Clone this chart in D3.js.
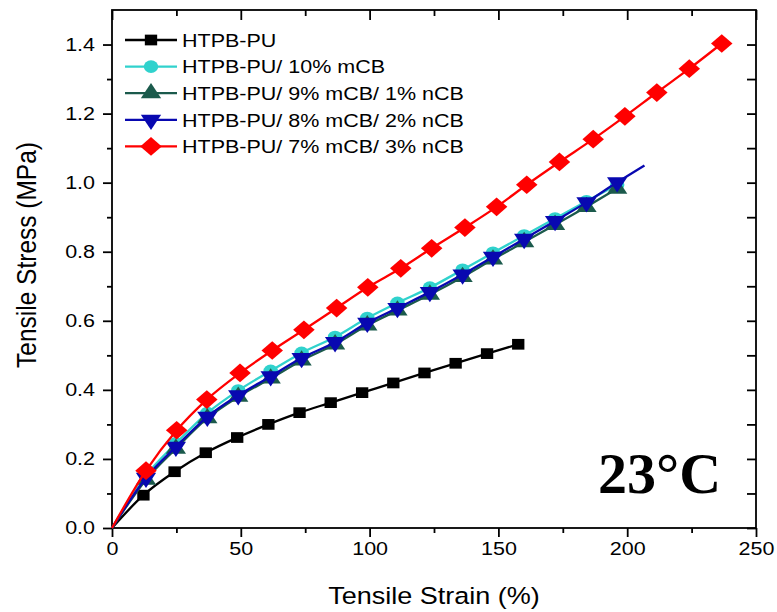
<!DOCTYPE html>
<html>
<head>
<meta charset="utf-8">
<script src="https://cdn.jsdelivr.net/npm/d3@7"></script>
<style>
  body { margin: 0; background: #fff; }
  text { font-family: Arial, "Liberation Sans", sans-serif; fill: #000; }
</style>
</head>
<body>
<div id="chart"></div>
<script>
// series: strain (%) / stress (MPa)
const seriesNames = [
    "HTPB-PU",
    "HTPB-PU/ 10% mCB",
    "HTPB-PU/ 9% mCB/ 1% nCB",
    "HTPB-PU/ 8% mCB/ 2% nCB",
    "HTPB-PU/ 7% mCB/ 3% nCB"
];

const pureStrain = [0, 12.2, 24.3, 36.4, 48.6, 60.7, 72.8, 84.9, 97.1, 109.2, 121.3, 133.4, 145.6, 157.7];
const pureStress = [0, 0.095, 0.163, 0.218, 0.262, 0.300, 0.334, 0.363, 0.392, 0.420, 0.449, 0.477, 0.505, 0.532];

const mcb10Strain = [0, 13.2, 24.8, 37.0, 49.0, 61.6, 73.6, 86.6, 99.1, 110.8, 123.4, 136.1, 147.9, 160.0, 172.0, 184.2, 196.1];
const mcb10Stress = [0, 0.152, 0.245, 0.333, 0.398, 0.455, 0.507, 0.553, 0.608, 0.652, 0.696, 0.748, 0.797, 0.847, 0.896, 0.946, 0.994];

const ncb1Strain = [0, 13.2, 24.8, 37.0, 49.0, 61.6, 73.6, 86.6, 99.1, 110.8, 123.4, 136.1, 147.9, 160.0, 172.0, 184.2, 196.1];
const ncb1Stress = [0, 0.140, 0.230, 0.318, 0.380, 0.433, 0.485, 0.532, 0.587, 0.630, 0.676, 0.727, 0.778, 0.828, 0.878, 0.930, 0.983];

const ncb2Strain = [0, 13.2, 24.8, 37.0, 49.0, 61.6, 73.6, 86.6, 99.1, 110.8, 123.4, 136.1, 147.9, 160.0, 172.0, 184.2, 196.1];
const ncb2Stress = [0, 0.145, 0.235, 0.322, 0.384, 0.439, 0.492, 0.538, 0.594, 0.637, 0.683, 0.734, 0.785, 0.837, 0.889, 0.943, 1.001];
// the 2% nCB curve runs on past its last marker
const ncb2TailStrain = [196.1, 206.7];
const ncb2TailStress = [1.001, 1.050];

const ncb3Strain = [0, 13.2, 25.1, 36.8, 49.7, 62.2, 74.5, 87.2, 99.3, 112.1, 124.1, 137.0, 149.3, 161.0, 173.7, 186.8, 199.1, 211.5, 224.1, 236.7];
const ncb3Stress = [0, 0.166, 0.283, 0.372, 0.449, 0.514, 0.574, 0.637, 0.697, 0.752, 0.810, 0.870, 0.930, 0.994, 1.060, 1.126, 1.192, 1.261, 1.330, 1.403];

const xMajor = [0, 50, 100, 150, 200, 250];
const xMinor = [25, 75, 125, 175, 225];
const yMajor = [0, 0.2, 0.4, 0.6, 0.8, 1.0, 1.2, 1.4];
const yMinor = [0.1, 0.3, 0.5, 0.7, 0.9, 1.1, 1.3];

const W = 777, H = 612;
const plotL = 112, plotR = 756, plotT = 10, plotB = 528;
const stretch = 1.15;   // the source picture is a bit wider than tall
const fs = 18.7;

const svg = d3.select("#chart").append("svg")
    .attr("width", W).attr("height", H);

const x = d3.scaleLinear().domain([0, 250]).range([plotL, plotR]);
const y = d3.scaleLinear().domain([0, 1.5]).range([plotB, plotT]);

// ticks
function ticks(axis, vals, size) {
    return axis.tickValues(vals).tickSize(size).tickFormat("");
}
const gx = svg.append("g").attr("transform", `translate(0,${plotB})`);
gx.call(d3.axisBottom(x).tickValues(xMajor).tickSize(9).tickFormat(d3.format("d")));
gx.selectAll("text")
    .attr("y", 14)
    .attr("transform", `scale(${stretch},1)`);
svg.append("g").attr("transform", `translate(0,${plotB})`).call(ticks(d3.axisBottom(x), xMinor, 5));

const gy = svg.append("g").attr("transform", `translate(${plotL},0)`);
gy.call(d3.axisLeft(y).tickValues(yMajor).tickSize(9).tickFormat(d3.format(".1f")));
gy.selectAll("text")
    .attr("x", -17 / stretch)
    .attr("transform", `scale(${stretch},1)`);
svg.append("g").attr("transform", `translate(${plotL},0)`).call(ticks(d3.axisLeft(y), yMinor, 5));

// inward ticks on top and right
svg.append("g").attr("transform", `translate(0,${plotT})`).call(ticks(d3.axisBottom(x), xMajor, 10));
svg.append("g").attr("transform", `translate(0,${plotT})`).call(ticks(d3.axisBottom(x), xMinor, 6));
svg.append("g").attr("transform", `translate(${plotR},0)`).call(ticks(d3.axisLeft(y), yMajor.concat(yMinor), 9));

svg.selectAll(".domain").remove();
svg.selectAll(".tick line").attr("stroke", "#000").attr("stroke-width", 1.8);
svg.selectAll(".tick text").style("font-size", fs + "px").attr("fill", "#000");

svg.append("rect")
    .attr("x", plotL).attr("y", plotT)
    .attr("width", plotR - plotL).attr("height", plotB - plotT)
    .attr("fill", "none").attr("stroke", "#000").attr("stroke-width", 1.8);

// axis titles
svg.append("text")
    .attr("transform", `translate(${(plotL + plotR) / 2},604) scale(${stretch},1)`)
    .attr("text-anchor", "middle")
    .style("font-size", "23.5px")
    .text("Tensile Strain (%)");

svg.append("text")
    .attr("transform", `translate(36,255) scale(${stretch},1) rotate(-90)`)
    .attr("text-anchor", "middle")
    .style("font-size", "24.5px")
    .text("Tensile Stress (MPa)");

svg.append("text")
    .attr("x", 598).attr("y", 493)
    .style("font-family", "'Times New Roman', 'Liberation Serif', serif")
    .style("font-weight", "bold")
    .style("font-size", "58px")
    .text("23°C");

// series
const diamond = {
    draw(ctx, size) {
        const r = Math.sqrt(size / 2);
        ctx.moveTo(0, -r); ctx.lineTo(r, 0); ctx.lineTo(0, r); ctx.lineTo(-r, 0); ctx.closePath();
    }
};

const series = [
    { name: seriesNames[0], xs: pureStrain, ys: pureStress, color: "#000000", symbol: d3.symbolSquare, size: 115 },
    { name: seriesNames[1], xs: mcb10Strain, ys: mcb10Stress, color: "#30d2cd", symbol: d3.symbolCircle, size: 125 },
    { name: seriesNames[2], xs: ncb1Strain, ys: ncb1Stress, color: "#1b5a4c", symbol: d3.symbolTriangle, size: 135 },
    { name: seriesNames[3], xs: ncb2Strain, ys: ncb2Stress, color: "#0808b0", symbol: d3.symbolTriangle, size: 135, flip: true,
      tail: d3.zip(ncb2TailStrain, ncb2TailStress) },
    { name: seriesNames[4], xs: ncb3Strain, ys: ncb3Stress, color: "#ff0000", symbol: diamond, size: 175 }
];

const line = d3.line()
    .x(d => x(d[0]))
    .y(d => y(d[1]))
    .curve(d3.curveMonotoneX);

function markerTransform(s, px, py) {
    return `translate(${px},${py}) scale(${stretch},${s.flip ? -1 : 1})`;
}

series.forEach(s => {
    const pts = d3.zip(s.xs, s.ys);
    const linePts = s.tail ? pts.concat(s.tail.slice(1)) : pts;
    const g = svg.append("g");
    g.append("path")
        .attr("d", line(linePts))
        .attr("fill", "none")
        .attr("stroke", s.color)
        .attr("stroke-width", 2.3);
    g.selectAll("path.mk")
        .data(pts.slice(1))
        .join("path")
        .attr("class", "mk")
        .attr("d", d3.symbol().type(s.symbol).size(s.size))
        .attr("transform", d => markerTransform(s, x(d[0]), y(d[1])))
        .attr("fill", s.color);
});

// legend
const legend = svg.append("g");
series.forEach((s, i) => {
    const ly = 40 + i * 26.6;
    legend.append("line")
        .attr("x1", 125).attr("x2", 177)
        .attr("y1", ly).attr("y2", ly)
        .attr("stroke", s.color).attr("stroke-width", 2.3);
    legend.append("path")
        .attr("d", d3.symbol().type(s.symbol).size(s.size))
        .attr("transform", markerTransform(s, 151, ly))
        .attr("fill", s.color);
    legend.append("text")
        .attr("transform", `translate(182,${ly + 6.7}) scale(${stretch},1)`)
        .style("font-size", fs + "px")
        .text(s.name);
});
</script>
</body>
</html>
